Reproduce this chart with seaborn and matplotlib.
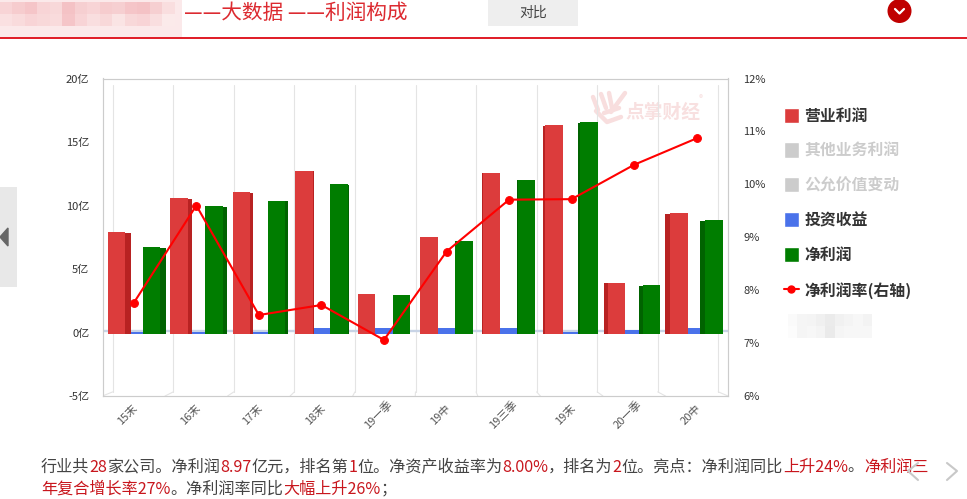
import numpy as np
import pandas as pd
import matplotlib
matplotlib.use("Agg")
import matplotlib.pyplot as plt
from matplotlib.lines import Line2D
from matplotlib.patches import Patch, Rectangle, Circle
from matplotlib.transforms import ScaledTranslation
import seaborn as sns

categories = ["15末", "16末", "17末", "18末", "19一季", "19中", "19三季", "19末", "20一季", "20中"]
operating_profit = [8.05, 10.69, 11.2, 12.86, 3.13, 7.61, 12.7, 16.46, 4.04, 9.55]
investment_income = [0.18, 0.18, 0.18, 0.45, 0.45, 0.5, 0.5, 0.18, 0.29, 0.45]
net_profit = [6.83, 10.1, 10.5, 11.83, 3.05, 7.3, 12.15, 16.7, 3.88, 8.97]
net_margin = [7.76, 9.6, 7.53, 7.72, 7.06, 8.73, 9.71, 9.72, 10.37, 10.87]
left_ticks = [-5, 0, 5, 10, 15, 20]
left_labels = ["-5亿", "0亿", "5亿", "10亿", "15亿", "20亿"]
right_ticks = [6, 7, 8, 9, 10, 11, 12]
right_labels = ["6%", "7%", "8%", "9%", "10%", "11%", "12%"]
legend_labels = ["营业利润", "其他业务利润", "公允价值变动", "投资收益", "净利润", "净利润率(右轴)"]
title_parts = ["——大数据 ——利润构成"]
line1 = [("行业共", 0), ("28", 1), ("家公司。净利润", 0), ("8.97", 1), ("亿元，排名第", 0), ("1", 1),
         ("位。净资产收益率为", 0), ("8.00%", 1), ("，排名为", 0), ("2", 1), ("位。亮点：净利润同比", 0),
         ("上升24%", 1), ("。", 0), ("净利润三", 1)]
line2 = [("年复合增长率27%", 1), ("。净利润率同比", 0), ("大幅上升26%", 1), ("；", 0)]

RED, RED_D = "#dc3c3c", "#b82222"
GREEN, GREEN_D = "#007d00", "#006300"
BLUE = "#4a72ea"
INK, HOT = "#444444", "#c8161d"
FONT = ["Noto Sans CJK SC", "DejaVu Sans"]

sns.set_theme(style="white")
plt.rcParams["font.family"] = FONT
plt.rcParams["axes.unicode_minus"] = False

W, H = 967, 499
fig = plt.figure(figsize=(W / 100, H / 100), dpi=100, facecolor="white")

# page furniture, in pixel coordinates
bg = fig.add_axes([0, 0, 1, 1], zorder=0)
bg.set_xlim(0, W); bg.set_ylim(H, 0); bg.axis("off")

bg.add_patch(Rectangle((0, 0), 182, 37, fc="#fbe9ea", ec="none"))
tones = [[.45, .6, .7, .45, .4, .75, .55, .45, .6, .55, .7, .75, .55, .3],
         [.25, .35, .45, .4, .35, .7, .45, .3, .4, .2, .4, .45, .3, .1]]
cmap = matplotlib.colors.LinearSegmentedColormap.from_list("p", ["#fdf0f0", "#f2b4b8"])
bg.imshow(tones, extent=(0, 175, 26, 2), aspect="auto", cmap=cmap, vmin=0, vmax=1,
          interpolation="nearest", zorder=1)
bg.text(184, 12.5, title_parts[0], color="#dc2a30", fontsize=14.9, va="center", ha="left", fontweight="light")
bg.add_patch(Rectangle((488, 0), 90, 26, fc="#eeeeee", ec="none"))
bg.text(533, 13, "对比", color="#444444", fontsize=10, va="center", ha="center")
bg.add_patch(Rectangle((0, 37), W, 2, fc="#e0202a", ec="none"))
bg.add_patch(Circle((899.5, 11), 12, fc="#c00000", ec="none"))
bg.plot([895, 899.5, 904], [9, 13.5, 9], color="white", lw=1.6)
bg.add_patch(Rectangle((0, 187), 17, 100, fc="#e8e8e8", ec="none"))
bg.fill([8, 0, 8], [228, 237, 246], color="#666666")

tones2 = [[.2, .4, .45, .6, .75, .55, .45, .3, .5],
          [.1, .4, .3, .45, .8, .4, .35, .35, .3]]
bg.imshow(tones2, extent=(788, 872, 338, 314), aspect="auto", cmap="Greys", vmin=0, vmax=5,
          interpolation="nearest", zorder=1)
bg.set_xlim(0, W); bg.set_ylim(H, 0)

# watermark
bg.text(625, 112, "点掌财经", color="#f8e0e0", fontsize=13.5, fontweight="bold", va="center", ha="left", zorder=2)
for xs, ys in [([593, 598], [97, 110]), ([601, 606], [94, 108]), ([609, 612], [93, 108]), ([625, 611], [93, 112]),
               ([596, 607, 621], [111, 122, 117]), ([604, 619], [113, 108])]:
    bg.plot(xs, ys, color="#f8dede", lw=3.2, solid_capstyle="round", zorder=2)
bg.text(701, 99, "®", color="#f8e0e0", fontsize=6, va="center", ha="center", zorder=2)


# chart
ax = fig.add_axes([102.5 / W, 1 - 396 / H, 625.5 / W, 317.5 / H], zorder=2)
ax.patch.set_alpha(0)
long = pd.DataFrame({"cat": categories * 3,
                     "series": ["营业利润"] * 10 + ["投资收益"] * 10 + ["净利润"] * 10,
                     "value": operating_profit + investment_income + net_profit})
sns.barplot(data=long, x="cat", y="value", hue="series", order=categories,
            hue_order=["营业利润", "投资收益", "净利润"],
            palette={"营业利润": RED, "投资收益": BLUE, "净利润": GREEN},
            width=0.84, gap=0, saturation=1, legend=False, ax=ax, zorder=3)
ax.set_xlim(-0.5, 9.5)
ax.set_ylim(-5, 20)
ax.set_xlabel(""); ax.set_ylabel("")

px_x = 1 / 62.55
floor = -0.12
dark = {0: RED_D, 1: "#3558c8", 2: GREEN_D}
zo = {0: 5, 1: 3.5, 2: 5}
for s, cont in enumerate(ax.containers):
    for i, p in enumerate(cont):
        p.set_y(floor)
        p.set_zorder(zo[s])
        p.set_edgecolor("none")
        depth = float(np.interp(i, [0, 3.5, 5.5, 9], [6, 0, 0, -5.2]))
        if s == 1:
            continue
        if abs(depth) > 0.3:
            x0 = p.get_x() + (p.get_width() if depth > 0 else depth * px_x)
            ax.add_patch(Rectangle((x0, floor), abs(depth) * px_x, p.get_height() - 0.06,
                                   fc=dark[s], ec="none", zorder=zo[s] - 0.5))

# floor band and depth-wall grid
ax.axhline(0.15, color="#c8d4e6", lw=1.7, zorder=1)
for k in range(11):
    gx = (112.7 + 60.56 * k - 102.5) / 625.5
    bx = k / 10
    ax.plot([gx, gx], [0.013, 0.981], transform=ax.transAxes, color="#e4e4e4", lw=0.8, zorder=0.5)
    ax.plot([bx, gx], [0.0, 0.013], transform=ax.transAxes, color="#e4e4e4", lw=0.8, zorder=0.5)

ax.set_yticks(left_ticks, left_labels)
ax.tick_params(axis="y", length=0, labelsize=8, labelcolor="#333333", pad=9.5)
ax.tick_params(axis="x", length=0, labelsize=8, labelcolor="#555555", pad=13.5)
shift = ScaledTranslation(-6 / 100, 0, fig.dpi_scale_trans)
for lab in ax.get_xticklabels():
    lab.set_rotation(45); lab.set_ha("center"); lab.set_va("center"); lab.set_rotation_mode("anchor")
    lab.set_transform(lab.get_transform() + shift)
for sp in ax.spines.values():
    sp.set_color("#cccccc"); sp.set_linewidth(0.85); sp.set_visible(True)

ax2 = ax.twinx()
ax2.set_zorder(3)
ax2.patch.set_alpha(0)
sns.lineplot(x=np.arange(len(categories)), y=net_margin, color="#ff0000", lw=1.5, marker="o",
             markersize=5.6, markeredgecolor="#ff0000", ax=ax2, legend=False, zorder=8)
ax2.set_xlim(-0.5, 9.5)
ax2.set_ylim(6, 12)
ax2.set_yticks(right_ticks, right_labels)
ax2.tick_params(axis="y", length=0, labelsize=8, labelcolor="#333333", pad=11)
ax2.set_ylabel("")
for sp in ax2.spines.values():
    sp.set_visible(False)
ax2.grid(False); ax.grid(False)

# legend
handles = [Patch(fc=RED), Patch(fc="#cccccc"), Patch(fc="#cccccc"), Patch(fc=BLUE), Patch(fc=GREEN),
           Line2D([], [], color="#ff0000", lw=1.5, marker="o", ms=5)]
leg = fig.legend(handles, legend_labels, loc="upper left", bbox_to_anchor=(783.5 / W, 1 - 107.5 / H),
                 bbox_transform=fig.transFigure, frameon=False, fontsize=11.4, handlelength=1.0,
                 handleheight=1.1, handletextpad=0.33, labelspacing=1.19, borderpad=0, borderaxespad=0)
for t, c in zip(leg.get_texts(), ["#333333", "#cccccc", "#cccccc", "#333333", "#333333", "#333333"]):
    t.set_color(c); t.set_fontweight("bold")

# summary text, one run after another
fig.canvas.draw()
rend = fig.canvas.get_renderer()
for y, runs in ((467, line1), (489, line2)):
    x = 41.0
    for s, hot in runs:
        t = bg.text(x, y, s, color=HOT if hot else INK, fontsize=11.6, va="center", ha="left", zorder=3)
        x += t.get_window_extent(rend).width

bg.plot([918, 908, 918], [463, 471, 480], color="#c8c8c8", lw=1.5, zorder=4)
bg.plot([947, 957, 947], [463, 471, 480], color="#c8c8c8", lw=1.5, zorder=4)

fig.savefig("out.png", dpi=100, facecolor="white")
